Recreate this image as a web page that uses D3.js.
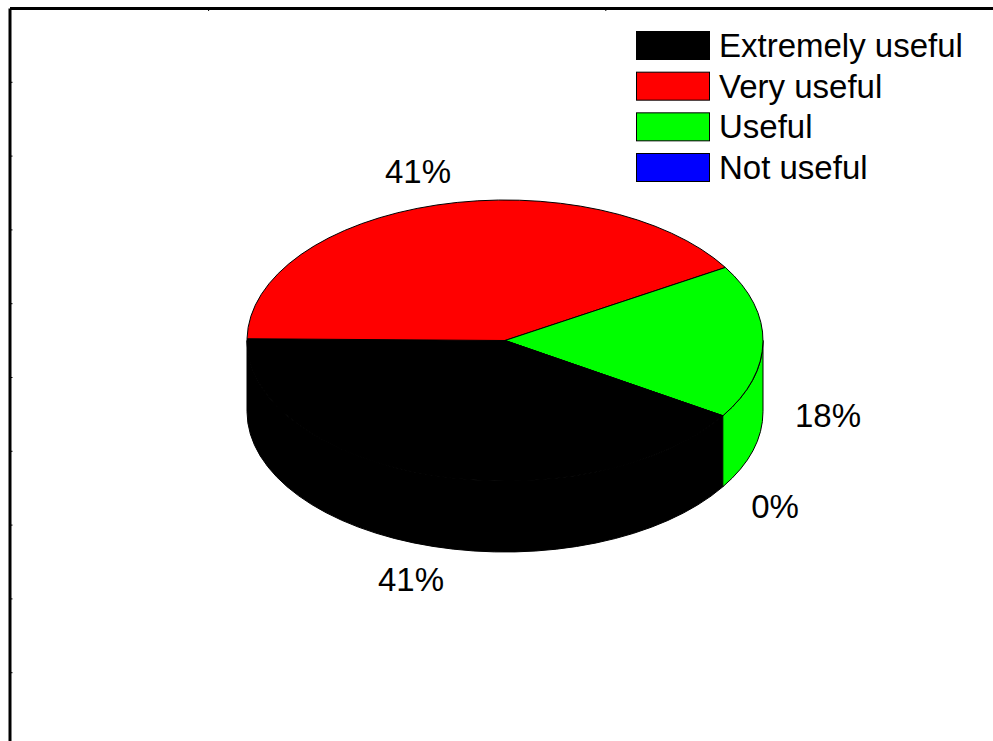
<!DOCTYPE html>
<html>
<head>
<meta charset="utf-8">
<script src="https://cdn.jsdelivr.net/npm/d3@7"></script>
<style>
    html, body { margin: 0; padding: 0; background: #fff; overflow: hidden; }
    svg { display: block; }
    text { font-family: "Liberation Sans", Arial, sans-serif; font-size: 33px; fill: #000; }
    .slice { stroke: #000; stroke-width: 1px; vector-effect: non-scaling-stroke; stroke-linejoin: round; }
    .frame path, .frame line { stroke: #000; }
    .frame path { stroke-width: 3px; }
    .frame line { stroke-width: 1px; }
</style>
</head>
<body>
<script>
const categories = ['Extremely useful', 'Very useful', 'Useful', 'Not useful'];
const shares = [41.2, 41.1, 17.7, 0];
const percentLabels = ['41%', '41%', '18%', '0%'];
const sliceColors = ['#000000', '#ff0000', '#00ff00', '#0000ff'];
const xTicks = [1, 3];
const yTicks = [1, 2, 3, 4, 5, 6, 7, 8, 9];

const w = 993,
    h = 741,
    cx = 505,
    cy = 340.5,
    rx = 258,
    ry = 140.5,
    depth = 71,
    squash = ry / rx,
    startAngle = (90 + 32.4) * Math.PI / 180;

const color = d3.scaleOrdinal().domain(categories).range(sliceColors);

const svg = d3.select('body')
    .append('svg')
    .attr('width', w)
    .attr('height', h);

//frame, only top and left sides fall inside the window
const xFrame = d3.scaleLinear().domain([0, 5]).range([9.5, 1002.5]);
const yFrame = d3.scaleLinear().domain([0, 10]).range([8, 746]);

svg.append('g')
    .attr('class', 'frame')
    .attr('transform', 'translate(0,8)')
    .call(d3.axisBottom(xFrame).tickValues(xTicks).tickSize(3).tickSizeOuter(0).tickFormat(''));

svg.append('g')
    .attr('class', 'frame')
    .attr('transform', 'translate(9.5,0)')
    .call(d3.axisRight(yFrame).tickValues(yTicks).tickSize(3).tickSizeOuter(0).tickFormat(''));

//pie, drawn round and squashed into an ellipse
const pie = d3.pie().sort(null).startAngle(startAngle).endAngle(startAngle + 2 * Math.PI);
const slices = pie(shares);
const arc = d3.arc().innerRadius(0).outerRadius(rx);

const pieGroup = svg.append('g')
    .attr('transform', `translate(${cx},${cy}) scale(1,${squash})`);

const wallPath = (lo, hi) => {
    const p = d3.path(),
        drop = depth / squash;
    p.moveTo(rx * Math.sin(lo), -rx * Math.cos(lo));
    p.arc(0, 0, rx, lo - Math.PI / 2, hi - Math.PI / 2);
    p.lineTo(rx * Math.sin(hi), -rx * Math.cos(hi) + drop);
    p.arc(0, drop, rx, hi - Math.PI / 2, lo - Math.PI / 2, true);
    p.closePath();
    return p.toString();
};

//side wall is only seen on the front half of the pie
slices.forEach((d, i) => {
    [0, 1].forEach(k => {
        const lo = Math.max(d.startAngle, Math.PI / 2 + 2 * Math.PI * k),
            hi = Math.min(d.endAngle, 3 * Math.PI / 2 + 2 * Math.PI * k);
        if (hi > lo) {
            pieGroup.append('path')
                .attr('class', 'slice')
                .attr('d', wallPath(lo, hi))
                .attr('fill', color(categories[i]));
        }
    });
});

pieGroup.selectAll('path.top')
    .data(slices)
    .enter()
    .append('path')
    .attr('class', 'slice top')
    .attr('d', arc)
    .attr('fill', (d, i) => color(categories[i]));

//percent labels
const labelCenters = [[411, 591], [418, 183], [828, 427], [775, 518]];

svg.append('g')
    .selectAll('text')
    .data(percentLabels)
    .enter()
    .append('text')
    .attr('text-anchor', 'middle')
    .attr('x', (d, i) => labelCenters[i][0])
    .attr('y', (d, i) => labelCenters[i][1])
    .text(d => d);

//legend
const legendY = d3.scalePoint().domain(categories).range([31, 153]);

const legend = svg.append('g')
    .selectAll('g')
    .data(categories)
    .enter()
    .append('g')
    .attr('transform', d => `translate(636,${legendY(d)})`);

legend.append('rect')
    .attr('x', 0.5)
    .attr('y', 0.5)
    .attr('width', 73)
    .attr('height', 28)
    .attr('fill', d => color(d))
    .attr('stroke', '#000')
    .attr('stroke-width', 1);

legend.append('text')
    .attr('x', 83)
    .attr('y', 26)
    .text(d => d);
</script>
</body>
</html>
